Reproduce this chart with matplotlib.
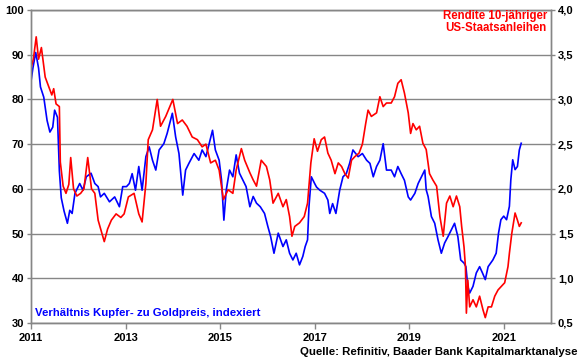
import matplotlib
matplotlib.use("Agg")
import matplotlib.pyplot as plt
from matplotlib.ticker import FuncFormatter

plt.rcParams["font.family"] = ["Liberation Sans", "DejaVu Sans"]
plt.rcParams["font.weight"] = "bold"

# Rendite 10-jaehriger US-Staatsanleihen (rechte Achse, %)
yield_t = [2011.00, 2011.05, 2011.11, 2011.16, 2011.22, 2011.30, 2011.37, 2011.44, 2011.48, 2011.53,
           2011.60, 2011.62, 2011.68, 2011.74, 2011.80, 2011.84, 2011.90, 2011.97, 2012.05, 2012.12,
           2012.20, 2012.28, 2012.35, 2012.42, 2012.50, 2012.55, 2012.62, 2012.70, 2012.80, 2012.90,
           2012.97, 2013.06, 2013.18, 2013.28, 2013.35, 2013.43, 2013.48, 2013.57, 2013.67, 2013.74,
           2013.85, 2014.00, 2014.10, 2014.20, 2014.30, 2014.41, 2014.52, 2014.62, 2014.70, 2014.80,
           2014.90, 2014.98, 2015.07, 2015.17, 2015.27, 2015.34, 2015.45, 2015.52, 2015.63, 2015.70,
           2015.77, 2015.87, 2015.98, 2016.05, 2016.12, 2016.23, 2016.33, 2016.40, 2016.47, 2016.52,
           2016.58, 2016.68, 2016.78, 2016.85, 2016.92, 2016.99, 2017.06, 2017.14, 2017.21, 2017.28,
           2017.35, 2017.43, 2017.50, 2017.57, 2017.64, 2017.71, 2017.78, 2017.85, 2017.94, 2018.01,
           2018.08, 2018.13, 2018.20, 2018.31, 2018.38, 2018.45, 2018.52, 2018.62, 2018.69, 2018.76,
           2018.83, 2018.90, 2018.98, 2019.03, 2019.08, 2019.15, 2019.22, 2019.29, 2019.36, 2019.43,
           2019.50, 2019.58, 2019.65, 2019.72, 2019.79, 2019.86, 2019.93, 2020.00, 2020.07, 2020.11,
           2020.16, 2020.19, 2020.21, 2020.24, 2020.28, 2020.35, 2020.42, 2020.49, 2020.56, 2020.61,
           2020.67, 2020.74, 2020.81, 2020.88, 2020.95, 2021.02, 2021.09, 2021.12, 2021.17, 2021.24,
           2021.29, 2021.33, 2021.37]
yield_v = [3.35, 3.45, 3.70, 3.45, 3.58, 3.25, 3.15, 3.05, 3.12, 2.95,
           2.92, 2.30, 2.03, 1.95, 2.05, 2.35, 2.00, 1.92, 1.95, 2.00,
           2.35, 2.00, 1.95, 1.65, 1.50, 1.41, 1.55, 1.65, 1.72, 1.68,
           1.72, 1.91, 1.95, 1.72, 1.63, 2.06, 2.55, 2.66, 3.00, 2.70,
           2.81, 3.00, 2.73, 2.77, 2.70, 2.58, 2.55, 2.47, 2.50, 2.29,
           2.32, 2.21, 1.88, 1.99, 1.95, 2.21, 2.45, 2.32, 2.18, 2.10,
           2.03, 2.32, 2.25, 2.10, 1.84, 1.95, 1.80, 1.88, 1.69, 1.47,
           1.58, 1.62, 1.69, 1.84, 2.29, 2.56, 2.42, 2.55, 2.58, 2.40,
           2.32, 2.17, 2.29, 2.25, 2.17, 2.12, 2.32, 2.36, 2.40, 2.50,
           2.73, 2.88, 2.81, 2.85, 3.03, 2.92, 2.96, 2.96, 3.03, 3.18,
           3.22, 3.07, 2.85, 2.62, 2.73, 2.66, 2.70, 2.51, 2.44, 2.17,
           2.10, 2.03, 1.69, 1.47, 1.84, 1.92, 1.80, 1.92, 1.80, 1.58,
           1.35, 1.13, 0.61, 0.98, 0.68, 0.76, 0.68, 0.80, 0.65, 0.56,
           0.68, 0.68, 0.80, 0.87, 0.91, 0.95, 1.13, 1.28, 1.50, 1.73,
           1.65, 1.58, 1.62]

# Verhaeltnis Kupfer- zu Goldpreis, indexiert (linke Achse)
ratio_t = [2011.00, 2011.04, 2011.10, 2011.16, 2011.20, 2011.27, 2011.34, 2011.40, 2011.46, 2011.50,
           2011.56, 2011.60, 2011.64, 2011.70, 2011.77, 2011.82, 2011.87, 2011.93, 2012.03, 2012.10,
           2012.17, 2012.27, 2012.35, 2012.42, 2012.47, 2012.55, 2012.66, 2012.77, 2012.87, 2012.94,
           2013.02, 2013.08, 2013.14, 2013.21, 2013.28, 2013.35, 2013.43, 2013.50, 2013.57, 2013.64,
           2013.71, 2013.81, 2013.88, 2013.99, 2014.06, 2014.13, 2014.21, 2014.27, 2014.34, 2014.45,
           2014.55, 2014.62, 2014.70, 2014.84, 2014.90, 2014.98, 2015.03, 2015.08, 2015.13, 2015.20,
           2015.27, 2015.34, 2015.41, 2015.48, 2015.55, 2015.63, 2015.70, 2015.77, 2015.85, 2015.94,
           2016.01, 2016.07, 2016.14, 2016.23, 2016.33, 2016.40, 2016.47, 2016.54, 2016.61, 2016.68,
           2016.75, 2016.80, 2016.85, 2016.88, 2016.93, 2017.00, 2017.04, 2017.11, 2017.21, 2017.28,
           2017.32, 2017.38, 2017.45, 2017.53, 2017.60, 2017.67, 2017.74, 2017.81, 2017.92, 2018.01,
           2018.10, 2018.17, 2018.24, 2018.31, 2018.38, 2018.45, 2018.52, 2018.62, 2018.69, 2018.76,
           2018.83, 2018.90, 2018.98, 2019.03, 2019.12, 2019.19, 2019.26, 2019.33, 2019.36, 2019.40,
           2019.47, 2019.54, 2019.61, 2019.68, 2019.75, 2019.82, 2019.89, 2019.96, 2020.03, 2020.09,
           2020.16, 2020.20, 2020.24, 2020.28, 2020.35, 2020.42, 2020.49, 2020.55, 2020.61, 2020.67,
           2020.77, 2020.84, 2020.89, 2020.94, 2021.00, 2021.06, 2021.12, 2021.15, 2021.19, 2021.24,
           2021.29, 2021.33, 2021.37]
ratio_v = [84.0, 87.0, 90.5, 87.0, 82.8, 80.5, 75.3, 72.7, 73.8, 77.6,
           76.0, 64.0, 58.0, 55.0, 52.3, 55.2, 54.5, 59.0, 61.2, 59.7,
           62.7, 63.5, 61.2, 60.5, 58.2, 59.0, 57.1, 58.2, 56.0, 60.5,
           60.5, 61.2, 63.4, 59.7, 65.0, 59.7, 67.2, 69.4, 66.4, 64.2,
           68.7, 70.1, 72.4, 76.9, 71.6, 67.9, 58.6, 64.2, 65.7, 67.9,
           66.4, 68.7, 67.2, 73.1, 68.7, 66.4, 62.0, 53.0, 59.7, 64.2,
           62.7, 67.6, 63.5, 62.0, 60.5, 56.0, 58.3, 56.8, 56.0, 54.5,
           51.6, 49.3, 45.6, 50.1, 47.1, 48.6, 45.6, 44.1, 45.6, 43.0,
           44.9, 47.1, 48.6, 56.0, 62.7, 61.2, 60.4, 59.7, 59.0, 57.5,
           54.5, 56.7, 54.5, 59.7, 62.7, 63.4, 65.7, 68.7, 67.2, 67.9,
           66.4, 65.7, 62.7, 65.0, 66.4, 70.1, 64.2, 64.2, 62.7, 65.0,
           63.4, 61.9, 58.2, 57.5, 59.0, 61.2, 62.7, 64.2, 59.8, 58.3,
           53.8, 52.3, 48.6, 45.6, 47.9, 49.3, 50.8, 52.3, 49.3, 44.1,
           43.4, 42.6, 38.2, 36.7, 38.2, 41.2, 42.6, 41.2, 39.7, 42.6,
           44.1, 45.6, 50.1, 53.1, 53.9, 53.1, 56.1, 62.0, 66.5, 64.3,
           65.0, 68.7, 70.2]

years = [2011, 2013, 2015, 2017, 2019, 2021]

grey = "#868686"

fig = plt.figure(figsize=(5.8, 3.59), dpi=100)
ax = fig.add_axes([31 / 580, 1 - 323 / 359, 520 / 580, 313 / 359])
ax2 = ax.twinx()

ax.plot(ratio_t, ratio_v, color="#0000ff", lw=1.2)
ax2.plot(yield_t, yield_v, color="#ff0000", lw=1.2)

ax.set_xlim(2011, 2022)
ax.set_ylim(30, 100)
ax2.set_ylim(0.5, 4.0)
ax.set_xticks(years)
ax.set_xticklabels([str(y) for y in years])
ax.set_yticks(range(30, 101, 10))
ax2.set_yticks([0.5 + 0.5 * i for i in range(8)])
ax2.yaxis.set_major_formatter(FuncFormatter(lambda v, p: f"{v:.1f}".replace(".", ",")))

ax.grid(axis="y", color=grey, lw=1)
ax.set_axisbelow(True)
for a in (ax, ax2):
    for s in a.spines.values():
        s.set_color(grey)
        s.set_linewidth(1)
    a.tick_params(colors="black", labelsize=8, length=3, width=1, pad=2)
    a.tick_params(axis="both", color=grey)
ax.tick_params(axis="x", pad=3, length=4)

fig.text(547 / 580, 1 - 22 / 359, "Rendite 10-jähriger\nUS-Staatsanleihen", color="#ff0000",
         fontsize=8.3, fontweight="bold", ha="right", va="center", linespacing=1.1)
fig.text(35 / 580, 1 - 313 / 359, "Verhältnis Kupfer- zu Goldpreis, indexiert", color="#0000ff",
         fontsize=8.2, fontweight="bold", ha="left", va="center")
fig.text(578 / 580, 1 - 352 / 359, "Quelle: Refinitiv, Baader Bank Kapitalmarktanalyse",
         color="black", fontsize=8.2, fontweight="bold", ha="right", va="center")

fig.savefig("out.png", dpi=100)
